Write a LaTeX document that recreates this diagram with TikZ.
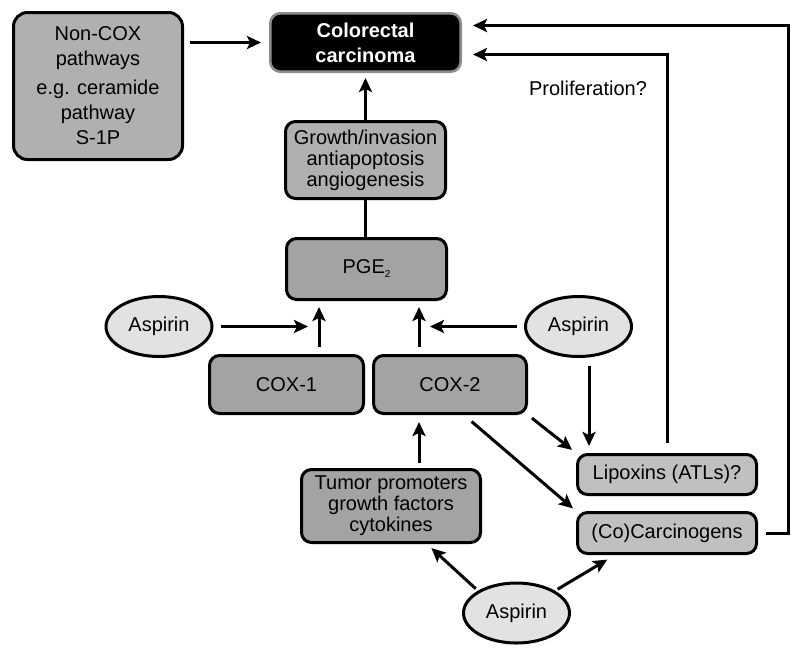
\documentclass[tikz,border=0pt]{standalone}
\usepackage{fontspec}
\setmainfont{Liberation Sans}
\usetikzlibrary{arrows.meta,shapes.geometric}
\definecolor{darkfill}{RGB}{163,163,163}
\definecolor{midfill}{RGB}{176,176,176}
\definecolor{lightfill}{RGB}{192,192,192}
\definecolor{aspfill}{RGB}{226,226,226}
\definecolor{crcborder}{RGB}{140,140,140}
\begin{document}
\begin{tikzpicture}[x=1pt,y=-1pt,
  box/.style={draw=black, line width=3pt, rounded corners=10pt, fill=darkfill,
    align=center, inner sep=0pt, font=\fontsize{20}{21}\selectfont},
  aspbox/.style={draw=black, line width=3pt, ellipse, fill=aspfill, inner sep=0pt,
    minimum width=106pt, minimum height=60pt, font=\fontsize{20}{21}\selectfont},
  arr/.style={line width=3pt, -{Stealth[length=14pt,width=13pt,inset=3pt]}},
  plain/.style={line width=3pt}]
\useasboundingbox (0,0) rectangle (800,657);
% nodes
\node[box, fill=midfill, rounded corners=14pt, minimum width=169pt, minimum height=147pt,
  font=\fontsize{20}{25}\selectfont] (noncox) at (98,86)
  {Non-COX\\pathways\\[4pt]e.g. ceramide\\pathway\\S-1P};
\node[box, fill=black, draw=crcborder, line width=2.6pt, minimum width=190.4pt, minimum height=58.4pt,
  text=white, font=\fontsize{20}{25}\selectfont\bfseries] (crc) at (365.5,42.5)
  {Colorectal\\carcinoma};
\node[box, fill=midfill, minimum width=160pt, minimum height=77pt] (growth) at (365.5,160)
  {Growth/invasion\\antiapoptosis\\angiogenesis};
\node[box, minimum width=160pt, minimum height=61pt] (pge) at (366.5,269)
  {PGE\raisebox{-4pt}{\fontsize{10}{10}\selectfont 2}};
\node[box, minimum width=154pt, minimum height=58pt] (cox1) at (286.5,384.5) {COX-1};
\node[box, minimum width=153pt, minimum height=58pt] (cox2) at (450,384.5) {COX-2};
\node[box, minimum width=179pt, minimum height=73pt] (tumor) at (391,506)
  {Tumor promoters\\growth factors\\cytokines};
\node[box, fill=lightfill, minimum width=179pt, minimum height=40pt] (lipox) at (667,474.5)
  {Lipoxins (ATLs)?};
\node[box, fill=lightfill, minimum width=179pt, minimum height=41pt] (carc) at (667,533)
  {(Co)Carcinogens};
\node[aspbox] (asp1) at (159,326.5) {Aspirin};
\node[aspbox] (asp2) at (578.5,326.5) {Aspirin};
\node[aspbox] (asp3) at (516.5,613) {Aspirin};
\node[font=\fontsize{20}{21}\selectfont] (prolif) at (588,88) {Proliferation?};
% junction coordinates
\coordinate (j1) at (319,326.5);
\coordinate (j2) at (419,326.5);
\coordinate (j3) at (589,400);
% connectors
\draw[arr, shorten <=6pt, shorten >=8pt] (noncox.east |- crc) -- (crc.west);
\draw[arr, shorten >=5pt] (growth.north) -- (crc.south);
\draw[plain] (pge.north -| growth) -- (growth.south);
\draw[arr, shorten <=7pt, shorten >=6pt] (cox1.north -| j1) -- (pge.south -| j1);
\draw[arr, shorten <=7pt, shorten >=6pt] (cox2.north -| j2) -- (pge.south -| j2);
\draw[arr, shorten <=7pt, shorten >=11pt] (asp1.east) -- (j1);
\draw[arr, shorten <=7pt, shorten >=11pt] (asp2.west) -- (j2);
\draw[arr, shorten <=8pt, shorten >=7pt] (asp2.south -| j3) -- (lipox.north -| j3);
\draw[arr, shorten <=5pt, shorten >=5pt] (cox2.south east) -- (lipox.north west);
\draw[arr, shorten <=10pt, shorten >=4pt] ([xshift=14pt]cox2.south) -- (carc.north west);
\draw[arr, shorten <=5pt, shorten >=7pt] (tumor.north -| j2) -- (cox2.south -| j2);
\draw[arr, shorten <=3pt, shorten >=6pt] (asp3.150) -- ([xshift=36pt]tumor.south);
\draw[arr, shorten <=3pt, shorten >=9pt] (asp3.30) -- ([xshift=-52pt]carc.south);
\draw[arr, shorten <=10pt, shorten >=11pt] (lipox.north) |- ([yshift=-12pt]crc.east);
\draw[arr, shorten <=8pt, shorten >=11pt] (carc.east) -- ++(30,0) |- ([yshift=17pt]crc.east);
\end{tikzpicture}
\end{document}
